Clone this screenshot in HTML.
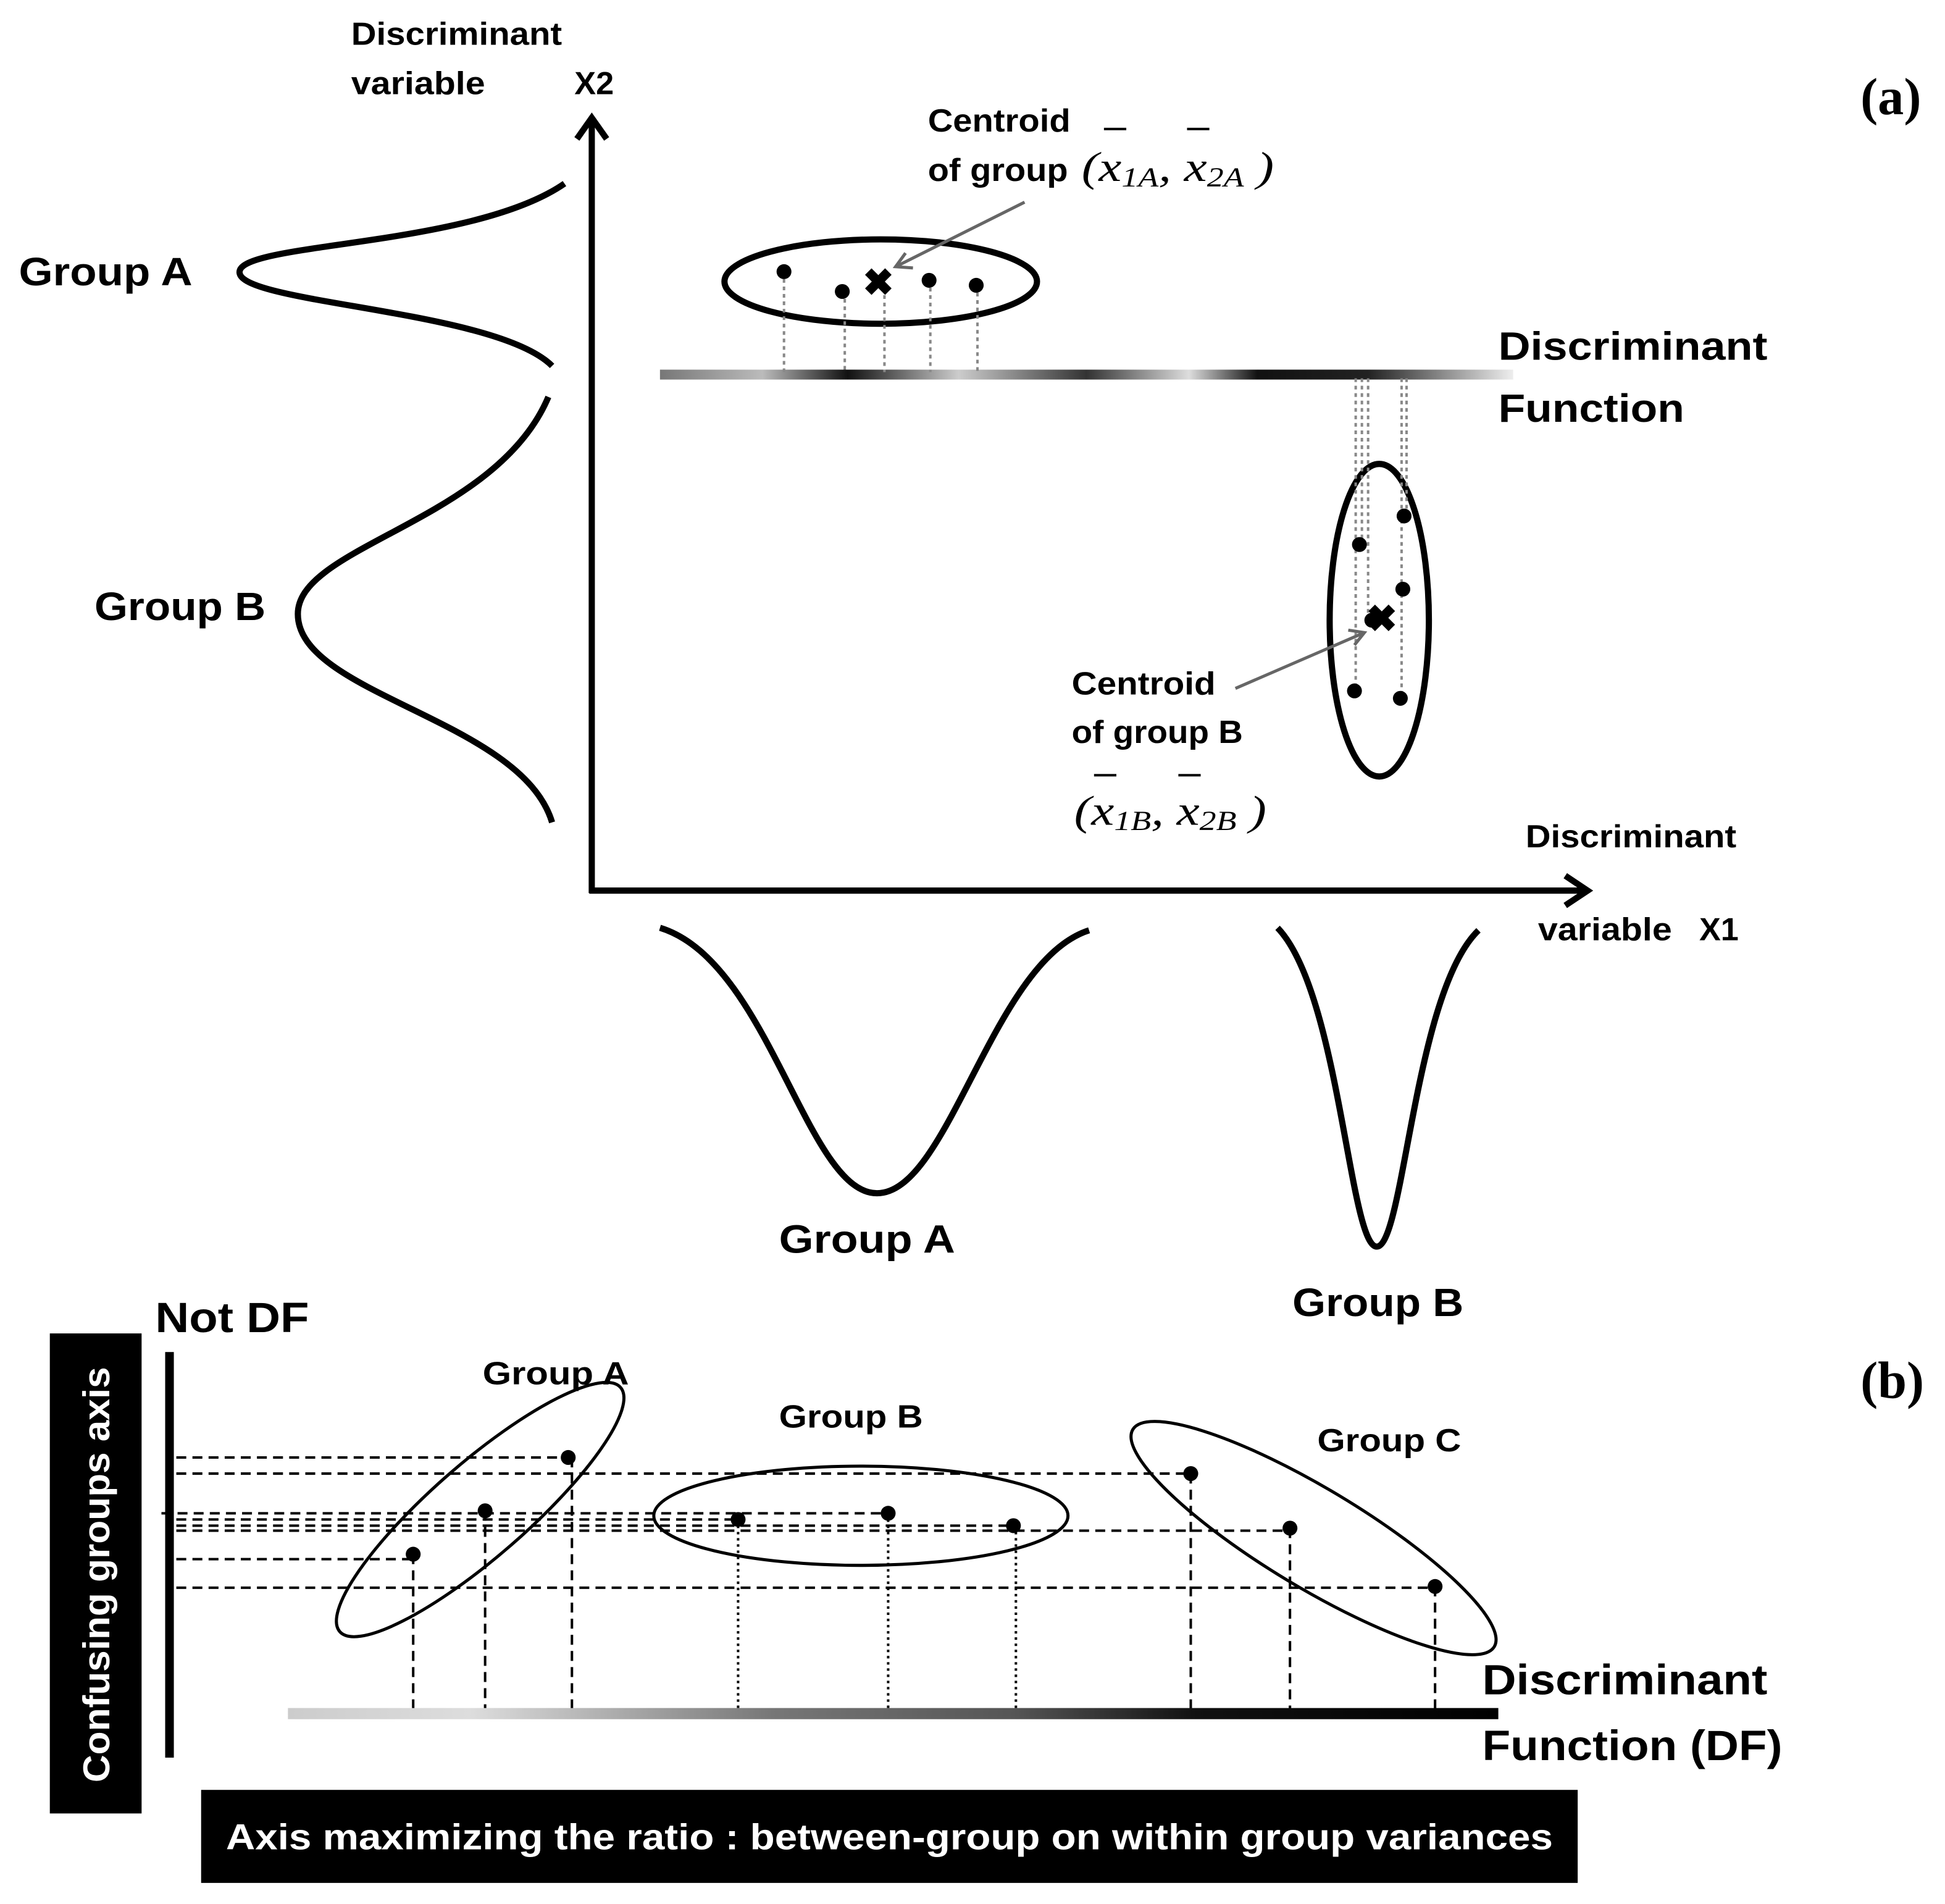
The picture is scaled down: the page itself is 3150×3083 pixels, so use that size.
<!DOCTYPE html>
<html><head><meta charset="utf-8"><style>
html,body{margin:0;padding:0;background:#fff}
svg{display:block}
text{font-family:"Liberation Sans",sans-serif;font-weight:bold;fill:#000}
.s{font-family:"Liberation Serif",serif;font-weight:normal;font-style:italic}
</style></head><body>
<svg width="3150" height="3083" viewBox="0 0 1568 1535" xmlns="http://www.w3.org/2000/svg">
<defs>
<linearGradient id="g1" x1="0" x2="1">
<stop offset="0" stop-color="#777"/><stop offset="0.12" stop-color="#bbb"/><stop offset="0.22" stop-color="#111"/><stop offset="0.35" stop-color="#ccc"/><stop offset="0.5" stop-color="#333"/><stop offset="0.62" stop-color="#ddd"/><stop offset="0.7" stop-color="#111"/><stop offset="0.83" stop-color="#222"/><stop offset="1" stop-color="#eee"/>
</linearGradient>
<linearGradient id="g2" x1="0" x2="1">
<stop offset="0" stop-color="#ccc"/><stop offset="0.15" stop-color="#ddd"/><stop offset="0.4" stop-color="#777"/><stop offset="0.6" stop-color="#555"/><stop offset="0.75" stop-color="#111"/><stop offset="1" stop-color="#000"/>
</linearGradient>
</defs>
<g font-size="26">
<text x="283" y="36" textLength="170" lengthAdjust="spacingAndGlyphs">Discriminant</text>
<text x="283" y="76" textLength="108" lengthAdjust="spacingAndGlyphs">variable</text>
<text x="463" y="76">X2</text>
</g>
<text x="1500" y="92" font-size="42" style="font-family:'Liberation Serif',serif">(a)</text>
<text x="1500" y="1127" font-size="42" style="font-family:'Liberation Serif',serif">(b)</text>
<g stroke="#000" stroke-width="5" fill="none">
<line x1="477" y1="720" x2="477" y2="95"/>
<polyline points="465,112 477,95 489,112"/>
<line x1="475" y1="718" x2="1280" y2="718"/>
<polyline points="1262,706 1280,718 1262,730"/>
<path d="M455,148 C380,200 190,195 193,220 C196,245 400,250 445,295"/>
<path d="M442,320 C400,420 240,440 240,495 C240,560 420,580 445,663"/>
<path d="M532,748 C620,775 650,962 707,962 C765,962 800,775 878,750"/>
<path d="M1030,748 C1080,800 1088,1005 1110,1005 C1132,1005 1140,800 1192,750"/>
<ellipse cx="710" cy="227" rx="126" ry="34"/>
<ellipse cx="1112" cy="500" rx="40" ry="126"/>
</g>
<g font-size="32">
<text x="15" y="230" textLength="140" lengthAdjust="spacingAndGlyphs">Group A</text>
<text x="76" y="500" textLength="138" lengthAdjust="spacingAndGlyphs">Group B</text>
<text x="628" y="1010" textLength="142" lengthAdjust="spacingAndGlyphs">Group A</text>
<text x="1042" y="1061" textLength="138" lengthAdjust="spacingAndGlyphs">Group B</text>
<text x="1208" y="290" textLength="217" lengthAdjust="spacingAndGlyphs">Discriminant</text>
<text x="1208" y="340" textLength="150" lengthAdjust="spacingAndGlyphs">Function</text>
</g>
<g font-size="26">
<text x="748" y="106" textLength="115" lengthAdjust="spacingAndGlyphs">Centroid</text>
<text x="748" y="146" textLength="113" lengthAdjust="spacingAndGlyphs">of group</text>
<text x="864" y="560" textLength="116" lengthAdjust="spacingAndGlyphs">Centroid</text>
<text x="864" y="599" textLength="138" lengthAdjust="spacingAndGlyphs">of group B</text>
<text x="1230" y="683" textLength="170" lengthAdjust="spacingAndGlyphs">Discriminant</text>
<text x="1240" y="758" textLength="108" lengthAdjust="spacingAndGlyphs">variable</text>
<text x="1370" y="758">X1</text>
</g>
<text class="s" x="872" y="146" font-size="34" textLength="155" lengthAdjust="spacingAndGlyphs">(x<tspan font-size="22" dy="4">1A</tspan><tspan dy="-4">, x</tspan><tspan font-size="22" dy="4">2A</tspan><tspan dy="-4"> )</tspan></text>
<text class="s" x="866" y="665" font-size="34" textLength="155" lengthAdjust="spacingAndGlyphs">(x<tspan font-size="22" dy="4">1B</tspan><tspan dy="-4">, x</tspan><tspan font-size="22" dy="4">2B</tspan><tspan dy="-4"> )</tspan></text>
<g stroke="#000" stroke-width="2"><line x1="890" y1="104" x2="908" y2="104"/><line x1="957" y1="104" x2="975" y2="104"/><line x1="882" y1="625" x2="900" y2="625"/><line x1="950" y1="625" x2="968" y2="625"/></g>
<rect x="532" y="298" width="688" height="8" fill="url(#g1)"/>
<g stroke="#888" stroke-width="2" stroke-dasharray="3,3">
<line x1="632" y1="219" x2="632" y2="300"/><line x1="681" y1="235" x2="681" y2="300"/><line x1="713" y1="232" x2="713" y2="300"/><line x1="750" y1="226" x2="750" y2="300"/><line x1="788" y1="230" x2="788" y2="300"/>
<line x1="1093" y1="305" x2="1093" y2="557"/><line x1="1098" y1="305" x2="1098" y2="439"/><line x1="1103" y1="305" x2="1103" y2="498"/><line x1="1130" y1="305" x2="1130" y2="563"/><line x1="1134" y1="305" x2="1134" y2="416"/>
</g>
<g fill="#000">
<circle cx="632" cy="219" r="6"/><circle cx="679" cy="235" r="6"/><circle cx="749" cy="226" r="6"/><circle cx="787" cy="230" r="6"/>
<circle cx="1096" cy="439" r="6"/><circle cx="1132" cy="416" r="6"/><circle cx="1131" cy="475" r="6"/><circle cx="1092" cy="557" r="6"/><circle cx="1129" cy="563" r="6"/><circle cx="1106" cy="500" r="6"/>
</g>
<g font-size="30" text-anchor="middle"><text x="708" y="238">✖</text><text x="1114" y="509">✖</text></g>
<g stroke="#666" stroke-width="2.5" fill="none">
<line x1="826" y1="163" x2="722" y2="215"/><polyline points="736,216 722,215 730,204"/>
<line x1="996" y1="555" x2="1100" y2="510"/><polyline points="1087,508 1100,510 1092,520"/>
</g>
<text x="125" y="1074" font-size="34" textLength="124" lengthAdjust="spacingAndGlyphs">Not DF</text>
<rect x="40" y="1075" width="74" height="387" fill="#000"/>
<text x="0" y="0" font-size="30" style="fill:#fff" transform="translate(88,1437) rotate(-90)" textLength="335" lengthAdjust="spacingAndGlyphs">Confusing groups axis</text>
<rect x="133" y="1090" width="7" height="327" fill="#000"/>
<rect x="162" y="1443" width="1110" height="75" fill="#000"/>
<text x="182" y="1491" font-size="29" style="fill:#fff" textLength="1070" lengthAdjust="spacingAndGlyphs">Axis maximizing the ratio : between-group on within group variances</text>
<g font-size="26"><text x="389" y="1116" textLength="118" lengthAdjust="spacingAndGlyphs">Group A</text><text x="628" y="1151" textLength="116" lengthAdjust="spacingAndGlyphs">Group B</text><text x="1062" y="1170" textLength="116" lengthAdjust="spacingAndGlyphs">Group C</text></g>
<g font-size="34"><text x="1195" y="1366" textLength="230" lengthAdjust="spacingAndGlyphs">Discriminant</text><text x="1195" y="1419" textLength="242" lengthAdjust="spacingAndGlyphs">Function (DF)</text></g>
<g stroke="#000" stroke-width="2.5" fill="none">
<ellipse cx="387" cy="1217" rx="150" ry="38" transform="rotate(-41 387 1217)"/>
<ellipse cx="694" cy="1222" rx="167" ry="40"/>
<ellipse cx="1059" cy="1240" rx="170" ry="40" transform="rotate(31 1059 1240)"/>
</g>
<g stroke="#000" stroke-width="2" stroke-dasharray="8,5" fill="none">
<line x1="142" y1="1175" x2="458" y2="1175"/>
<line x1="142" y1="1188" x2="960" y2="1188"/>
<line x1="130" y1="1220" x2="716" y2="1220"/>
<line x1="142" y1="1225" x2="595" y2="1225"/>
<line x1="142" y1="1230" x2="817" y2="1230"/>
<line x1="142" y1="1234" x2="1040" y2="1234"/>
<line x1="142" y1="1257" x2="333" y2="1257"/>
<line x1="142" y1="1280" x2="1157" y2="1280"/>
<line x1="333" y1="1253" x2="333" y2="1380"/><line x1="391" y1="1218" x2="391" y2="1380"/><line x1="461" y1="1175" x2="461" y2="1380"/>
<line x1="960" y1="1188" x2="960" y2="1380"/><line x1="1040" y1="1232" x2="1040" y2="1380"/><line x1="1157" y1="1279" x2="1157" y2="1380"/>
</g>
<g stroke="#000" stroke-width="2" stroke-dasharray="2,3"><line x1="595" y1="1225" x2="595" y2="1380"/><line x1="716" y1="1220" x2="716" y2="1380"/><line x1="819" y1="1230" x2="819" y2="1380"/></g>
<rect x="232" y="1377" width="976" height="9" fill="url(#g2)"/>
<g fill="#000">
<circle cx="333" cy="1253" r="6"/><circle cx="391" cy="1218" r="6"/><circle cx="458" cy="1175" r="6"/>
<circle cx="595" cy="1225" r="6"/><circle cx="716" cy="1220" r="6"/><circle cx="817" cy="1230" r="6"/>
<circle cx="960" cy="1188" r="6"/><circle cx="1040" cy="1232" r="6"/><circle cx="1157" cy="1279" r="6"/>
</g>
</svg>
</body></html>
